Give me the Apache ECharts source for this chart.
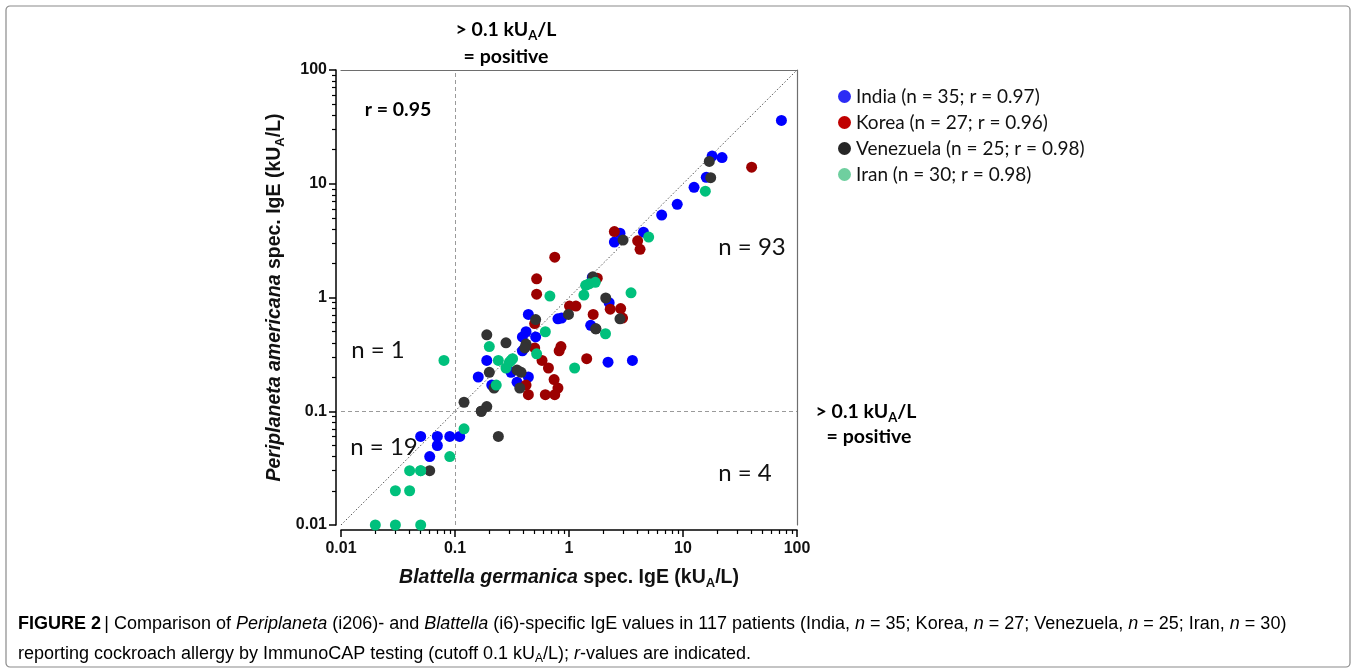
<!DOCTYPE html>
<html>
<head>
<meta charset="utf-8">
<script src="https://cdn.jsdelivr.net/npm/echarts@6/dist/echarts.min.js"></script>
<style>
  html, body { margin: 0; padding: 0; background: #fff; }
  #chart { width: 1357px; height: 670px; }
</style>
</head>
<body>
<div id="chart"></div>
<script>
// values: [Blattella germanica, Periplaneta americana] spec. IgE in kUA/L
var india = [
  [0.05, 0.06], [0.07, 0.06], [0.09, 0.06], [0.11, 0.06], [0.07, 0.05], [0.06, 0.04],
  [0.19, 0.28], [0.16, 0.2], [0.21, 0.17], [0.31, 0.22], [0.35, 0.18], [0.44, 0.2],
  [0.39, 0.34], [0.39, 0.45], [0.42, 0.5], [0.51, 0.45], [0.44, 0.71], [0.8, 0.65],
  [0.86, 0.66], [1.55, 0.57], [2.2, 0.27], [3.6, 0.28], [2.25, 0.9], [2.8, 3.68],
  [2.5, 3.07], [4.5, 3.75], [6.5, 5.3], [8.9, 6.6], [12.5, 9.3], [16, 11.4],
  [18, 17.5], [22, 17], [73, 36], [0.42, 0.38], [1.6, 1.5]
];
var korea = [
  [0.42, 0.17], [0.44, 0.14], [0.5, 0.36], [0.58, 0.28], [0.66, 0.24], [0.74, 0.19],
  [0.8, 0.16], [0.62, 0.14], [0.75, 0.14], [0.85, 0.37], [0.82, 0.34], [0.52, 1.46],
  [0.52, 1.07], [0.75, 2.26], [0.5, 0.59], [1.01, 0.84], [1.15, 0.84], [1.77, 1.48],
  [1.63, 0.71], [1.43, 0.29], [2.3, 0.79], [2.84, 0.8], [2.95, 0.66], [2.5, 3.8],
  [4.0, 3.15], [4.2, 2.65], [40, 14]
];
var venezuela = [
  [0.06, 0.03], [0.24, 0.06], [0.12, 0.12], [0.17, 0.1], [0.19, 0.11], [0.19, 0.47],
  [0.2, 0.22], [0.22, 0.16], [0.28, 0.4], [0.35, 0.23], [0.38, 0.22], [0.37, 0.16],
  [0.42, 0.39], [0.41, 0.36], [0.51, 0.64], [0.99, 0.71], [1.62, 1.52], [1.72, 0.53],
  [2.1, 0.99], [2.8, 0.65], [2.98, 3.2], [17, 15.7], [17.5, 11.3], [0.17, 0.1], [1.72, 0.53]
];
var iran = [
  [0.08, 0.28], [0.12, 0.07], [0.09, 0.04], [0.04, 0.03], [0.05, 0.03], [0.03, 0.02],
  [0.04, 0.02], [0.02, 0.01], [0.03, 0.01], [0.05, 0.01], [0.2, 0.37], [0.23, 0.17],
  [0.24, 0.28], [0.28, 0.24], [0.3, 0.27], [0.32, 0.29], [0.52, 0.32], [0.62, 0.5],
  [0.68, 1.03], [1.35, 1.05], [1.4, 1.28], [1.5, 1.32], [1.7, 1.36], [2.09, 0.48],
  [1.12, 0.24], [3.5, 1.1], [5.0, 3.4], [15.7, 8.6], [0.31, 0.28], [0.05, 0.03]
];

var seriesNames = [
  'India (n = 35; r = 0.97)',
  'Korea (n = 27; r = 0.96)',
  'Venezuela (n = 25; r = 0.98)',
  'Iran (n = 30; r = 0.98)'
];
var seriesColors = ['#0000ff', '#9c0000', '#333333', '#00c07c'];
var legendColors = ['#2b2bf5', '#c00000', '#262626', '#6fcf9f'];

var majorTicks = [0.01, 0.1, 1, 10, 100];
var tickLabels = ['0.01', '0.1', '1', '10', '100'];
var minorSteps = [2, 3, 4, 5, 6, 7, 8, 9];
var cutoff = 0.1;
var identity = [0.01, 100];

// minor log ticks, expressed in decades for the overlay value axes
var minorLog = [];
majorTicks.slice(0, -1).forEach(function (t) {
  minorSteps.forEach(function (k) { minorLog.push(Math.log10(t * k)); });
});
var decadeMin = Math.log10(majorTicks[0]);
var decadeMax = Math.log10(majorTicks[majorTicks.length - 1]);

function tickText(v) {
  var i = Math.round(Math.log10(v)) - decadeMin;
  return tickLabels[i] !== undefined ? tickLabels[i] : '';
}

var axisGap = 5; // Prism-style offset of the left and bottom axes
var labelFont = { fontFamily: 'Liberation Sans', fontWeight: 'bold', fontSize: 16, color: '#111' };
var nameRich = {
  i: { fontFamily: 'Liberation Sans', fontWeight: 'bold', fontStyle: 'italic', fontSize: 19.5, color: '#111', lineHeight: 24 },
  b: { fontFamily: 'Liberation Sans', fontWeight: 'bold', fontSize: 19.5, color: '#111', lineHeight: 24 },
  s: { fontFamily: 'Liberation Sans', fontWeight: 'bold', fontSize: 13, color: '#111', lineHeight: 13, verticalAlign: 'bottom' }
};
var noteRich = {
  b: { fontFamily: 'Lato', fontWeight: 'bold', fontSize: 19.5, color: '#111', lineHeight: 24 },
  s: { fontFamily: 'Lato', fontWeight: 'bold', fontSize: 13, color: '#111', lineHeight: 14, verticalAlign: 'bottom' }
};
var capRich = {
  n: { fontFamily: 'Liberation Sans', fontSize: 18, color: '#222', lineHeight: 22 },
  i: { fontFamily: 'Liberation Sans', fontStyle: 'italic', fontSize: 18, color: '#222', lineHeight: 22 },
  b: { fontFamily: 'Liberation Sans', fontWeight: 'bold', fontSize: 18, color: '#222', lineHeight: 22 },
  s: { fontFamily: 'Liberation Sans', fontSize: 12, color: '#222', lineHeight: 12, verticalAlign: 'bottom' }
};

function note(x, y, text, rich) {
  return { type: 'text', x: x, y: y, style: { text: text, rich: rich, align: 'center', verticalAlign: 'middle' } };
}
function nLabel(x, y, text) {
  return { type: 'text', x: x, y: y, style: { text: text, fontFamily: 'Lato', fontSize: 24, fill: '#111', align: 'center', verticalAlign: 'middle' } };
}
// axis that only draws the log-spaced minor ticks
function minorAxis(pos) {
  return {
    type: 'value', min: decadeMin, max: decadeMax,
    position: pos, offset: axisGap,
    axisLine: { show: false, onZero: false },
    axisTick: { length: 4, customValues: minorLog, lineStyle: { color: '#000', width: 1.2 } },
    axisLabel: { show: false },
    splitLine: { show: false }
  };
}
// plain gray line closing the frame on top and right
function frameAxis(pos) {
  return {
    type: 'value', min: decadeMin, max: decadeMax,
    position: pos,
    axisLine: { show: true, onZero: false, lineStyle: { color: '#6e6e6e', width: 1.2 } },
    axisTick: { show: false },
    axisLabel: { show: false },
    splitLine: { show: false }
  };
}

var chart = echarts.init(document.getElementById('chart'));

var points = [india, korea, venezuela, iran];
var series = points.map(function (d, i) {
  return {
    name: seriesNames[i],
    type: 'scatter',
    data: d,
    symbolSize: 11,
    itemStyle: { color: seriesColors[i], opacity: 1 },
    z: 5 + i
  };
});
series.unshift({
  name: 'identity',
  type: 'line',
  data: [[identity[0], identity[0]], [identity[1], identity[1]]],
  symbol: 'none',
  silent: true,
  lineStyle: { color: '#555', width: 1, type: [1.5, 2] },
  z: 2,
  markLine: {
    silent: true,
    symbol: 'none',
    label: { show: false },
    lineStyle: { color: '#9a9a9a', width: 1, type: [4, 3] },
    data: [{ xAxis: cutoff }, { yAxis: cutoff }]
  }
});

var option = {
  animation: false,
  backgroundColor: '#fff',
  grid: { left: 341, right: 560, top: 70, bottom: 145 },
  legend: {
    orient: 'vertical',
    left: 833, top: 82,
    itemGap: 7,
    itemWidth: 13, itemHeight: 13,
    icon: 'circle',
    textStyle: { fontFamily: 'Lato', fontSize: 19, color: '#111' },
    data: seriesNames.map(function (n, i) {
      return { name: n, itemStyle: { color: legendColors[i] } };
    })
  },
  xAxis: [{
    type: 'log', logBase: 10,
    min: majorTicks[0], max: majorTicks[majorTicks.length - 1],
    position: 'bottom', offset: axisGap,
    axisLine: { onZero: false, lineStyle: { color: '#000', width: 1.5 } },
    axisTick: { length: 7, lineStyle: { color: '#000', width: 1.5 } },
    axisLabel: Object.assign({ margin: 11, formatter: tickText }, labelFont),
    splitLine: { show: false },
    name: '{i|Blattella germanica}{b| spec. IgE (kU}{s|A}{b|/L)}',
    nameLocation: 'middle',
    nameGap: 36,
    nameTextStyle: { rich: nameRich }
  }, minorAxis('bottom'), frameAxis('top')],
  yAxis: [{
    type: 'log', logBase: 10,
    min: majorTicks[0], max: majorTicks[majorTicks.length - 1],
    position: 'left', offset: axisGap,
    axisLine: { onZero: false, lineStyle: { color: '#000', width: 1.5 } },
    axisTick: { length: 7, lineStyle: { color: '#000', width: 1.5 } },
    axisLabel: Object.assign({ margin: 9, formatter: tickText }, labelFont),
    splitLine: { show: false },
    name: '{i|Periplaneta americana}{b| spec. IgE (kU}{s|A}{b|/L)}',
    nameLocation: 'middle',
    nameGap: 49,
    nameTextStyle: { rich: nameRich }
  }, minorAxis('left'), frameAxis('right')],
  series: series,
  graphic: [
    { type: 'rect', shape: { x: 6, y: 6, width: 1344, height: 661, r: 4 },
      style: { fill: 'none', stroke: '#8a8a8a', lineWidth: 1.2 }, silent: true },
    note(506, 30, '{b|> 0.1 kU}{s|A}{b|/L}', noteRich),
    note(506, 57, '{b|= positive}', noteRich),
    note(866, 412, '{b|> 0.1 kU}{s|A}{b|/L}', noteRich),
    note(869, 437, '{b|= positive}', noteRich),
    note(398, 110, '{b|r = 0.95}', noteRich),
    nLabel(378, 350, 'n = 1'),
    nLabel(384, 447, 'n = 19'),
    nLabel(752, 247, 'n = 93'),
    nLabel(745, 473, 'n = 4'),
    { type: 'text', x: 18, y: 624,
      style: { text: '{b|FIGURE 2} {n|| Comparison of }{i|Periplaneta}{n| (i206)- and }{i|Blattella}{n| (i6)-specific IgE values in 117 patients (India, }{i|n}{n| = 35; Korea, }{i|n}{n| = 27; Venezuela, }{i|n}{n| = 25; Iran, }{i|n}{n| = 30)}',
        rich: capRich, verticalAlign: 'middle' } },
    { type: 'text', x: 18, y: 654,
      style: { text: '{n|reporting cockroach allergy by ImmunoCAP testing (cutoff 0.1 kU}{s|A}{n|/L); }{i|r}{n|-values are indicated.}',
        rich: capRich, verticalAlign: 'middle' } }
  ]
};

chart.setOption(option);
</script>
</body>
</html>
